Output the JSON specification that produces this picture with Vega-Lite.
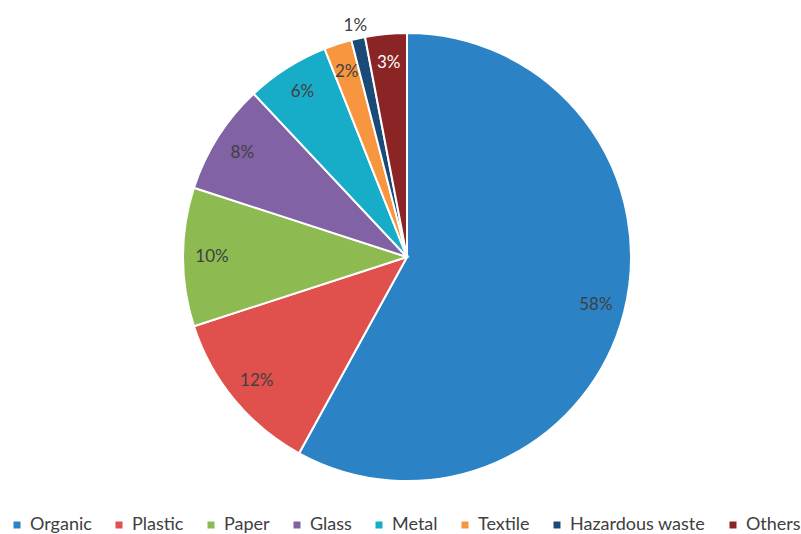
{
  "$schema": "https://vega.github.io/schema/vega-lite/v6.json",
  "width": 788,
  "height": 514,
  "autosize": {"type": "none"},
  "padding": {"left": 13, "top": 0, "right": 0, "bottom": 20},
  "background": "white",
  "config": {"view": {"stroke": null}, "font": "Lato"},
  "data": {
    "values": [
      {"idx": 1, "category": "Organic", "share": 58},
      {"idx": 2, "category": "Plastic", "share": 12},
      {"idx": 3, "category": "Paper", "share": 10},
      {"idx": 4, "category": "Glass", "share": 8},
      {"idx": 5, "category": "Metal", "share": 6},
      {"idx": 6, "category": "Textile", "share": 2},
      {"idx": 7, "category": "Hazardous waste", "share": 1},
      {"idx": 8, "category": "Others", "share": 3}
    ]
  },
  "transform": [{"calculate": "datum.share + '%'", "as": "label"}],
  "encoding": {
    "theta": {"field": "share", "type": "quantitative", "stack": true},
    "order": {"field": "idx", "type": "quantitative"}
  },
  "layer": [
    {
      "mark": {"type": "arc", "outerRadius": 224, "stroke": "white", "strokeWidth": 2},
      "encoding": {
        "color": {
          "field": "category",
          "type": "nominal",
          "sort": null,
          "scale": {
            "domain": ["Organic", "Plastic", "Paper", "Glass", "Metal", "Textile", "Hazardous waste", "Others"],
            "range": ["#2B83C6", "#E0504C", "#8DBB52", "#8062A5", "#17ACC8", "#F8953F", "#1A4A78", "#8B2424"]
          },
          "legend": {
            "title": null,
            "orient": "none",
            "direction": "horizontal",
            "columns": 8,
            "legendX": -5,
            "legendY": 516,
            "symbolType": "square",
            "symbolSize": 49,
            "symbolStrokeWidth": 0,
            "labelFontSize": 18,
            "labelColor": "#404040",
            "labelFont": "Lato",
            "labelOffset": 4,
            "columnPadding": 18,
            "labelLimit": 300
          }
        }
      }
    },
    {
      "mark": {"type": "text", "radius": 195, "fontSize": 17, "font": "Lato"},
      "encoding": {
        "text": {
          "condition": {"test": "datum.category === 'Hazardous waste'", "value": ""},
          "field": "label"
        },
        "color": {
          "condition": {"test": "datum.category === 'Others'", "value": "white"},
          "value": "#404040"
        }
      }
    },
    {
      "mark": {"type": "text", "radius": 237, "fontSize": 17, "font": "Lato", "color": "#404040"},
      "encoding": {
        "text": {
          "condition": {"test": "datum.category !== 'Hazardous waste'", "value": ""},
          "field": "label"
        }
      }
    }
  ]
}
